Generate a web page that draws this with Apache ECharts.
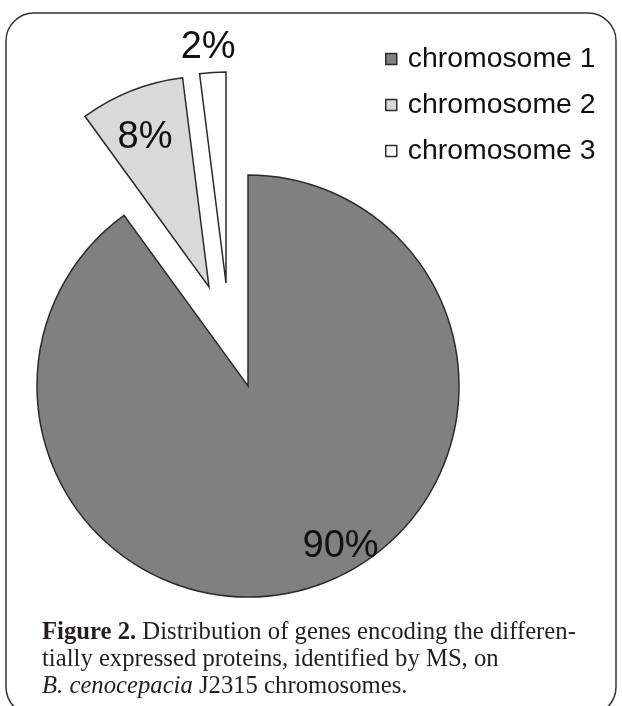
<!DOCTYPE html>
<html>
<head>
<meta charset="utf-8">
<script src="https://cdn.jsdelivr.net/npm/echarts@6/dist/echarts.min.js"></script>
<style>
html,body{margin:0;padding:0;background:#fff;}
#chart{width:622px;height:706px;}
</style>
</head>
<body>
<div id="chart"></div>
<script>
// ---- data ----
const categories = ['chromosome 1', 'chromosome 2', 'chromosome 3'];
const values = [90, 8, 2];
const labels = ['90%', '8%', '2%'];
const colors = ['#808080', '#d9d9d9', '#ffffff'];

// ---- layout (per-slice explosion: each slice drawn by its own pie series) ----
const centers = [[248, 386], [209, 287], [226, 283]];
const labelShift = [[59, 57], [-24, -49], [-11, -127]];
const R = 211;
const edge = '#2b2b2b';

const chart = echarts.init(document.getElementById('chart'), null, {renderer: 'canvas'});

const series = categories.map((_, k) => ({
  type: 'pie',
  center: centers[k],
  radius: [0, R],
  startAngle: 90,
  clockwise: true,
  animation: false,
  silent: true,
  avoidLabelOverlap: false,
  emphasis: {disabled: true},
  labelLine: {show: false},
  labelLayout: function (p) {
    if (p.dataIndex !== k) return {};
    return {dx: labelShift[k][0], dy: labelShift[k][1]};
  },
  data: categories.map((name, i) => ({
    name: name,
    value: values[i],
    itemStyle: i === k
      ? {color: colors[i], borderColor: edge, borderWidth: 1.5, borderJoin: 'miter', opacity: 1}
      : {color: colors[i], opacity: 0, borderWidth: 0},
    label: {
      show: i === k,
      position: 'inside',
      formatter: labels[i],
      fontFamily: 'Liberation Sans, Arial, sans-serif',
      fontSize: 38,
      color: '#111'
    }
  }))
}));

const capFont = 'Liberation Serif, Times New Roman, serif';
const capSize = 24.7;

chart.setOption({
  backgroundColor: '#fff',
  animation: false,
  title: {
    left: 42,
    top: 619,
    padding: 0,
    text: '{b|Figure 2.} Distribution of genes encoding the differen-\ntially expressed proteins, identified by MS, on\n{i|B. cenocepacia} J2315 chromosomes.',
    textStyle: {
      fontFamily: capFont,
      fontSize: capSize, fontWeight: 'normal', color: '#231f20', lineHeight: 27,
      rich: {
        b: {fontFamily: capFont, fontSize: capSize, fontWeight: 'bold', color: '#231f20', lineHeight: 27},
        i: {fontFamily: capFont, fontSize: capSize, fontStyle: 'italic', color: '#231f20', lineHeight: 27}
      }
    }
  },
  legend: {
    orient: 'vertical',
    left: 380,
    top: 40,
    icon: 'rect',
    itemWidth: 11,
    itemHeight: 11,
    itemGap: 18,
    selectedMode: false,
    textStyle: {
      fontFamily: 'Liberation Sans, Arial, sans-serif',
      fontSize: 28.4, color: '#111', padding: [0, 0, 0, 6]
    },
    data: categories.map((name, i) => ({
      name: name,
      itemStyle: {color: colors[i], borderColor: edge, borderWidth: 1.5, opacity: 1}
    }))
  },
  graphic: [{
    type: 'rect',
    silent: true,
    shape: {x: 6, y: 13, width: 610, height: 702, r: 28},
    style: {fill: 'none', stroke: '#333', lineWidth: 1.5}
  }],
  series: series
});
</script>
</body>
</html>
